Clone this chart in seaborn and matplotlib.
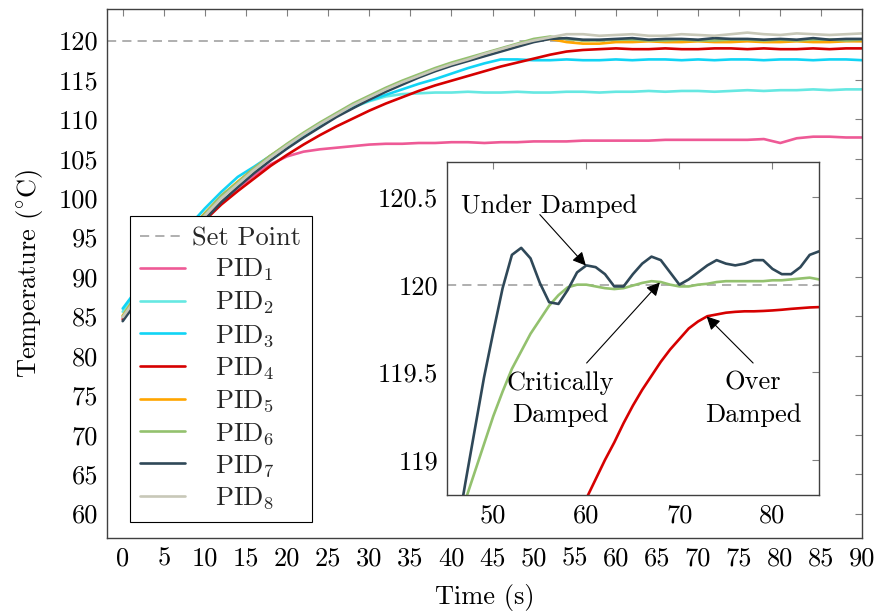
import matplotlib
matplotlib.use("Agg")
import matplotlib.pyplot as plt
import numpy as np
import pandas as pd
import seaborn as sns

# ---------------- data ----------------
time_main = [0, 2, 4, 6, 8, 10, 12, 14, 16, 18, 20, 22, 24, 26, 28, 30, 32, 34, 36, 38,
             40, 42, 44, 46, 48, 50, 52, 54, 56, 58, 60, 62, 64, 66, 68, 70, 72, 74, 76, 78,
             80, 82, 84, 86, 88, 90]

pid1 = [84.8, 87.7, 90.4, 92.9, 95.2, 97.4, 99.5, 101.3, 102.9, 104.3,
        105.3, 105.9, 106.2, 106.4, 106.6, 106.8, 106.9, 106.9, 107.0, 107.0,
        107.1, 107.1, 107.0, 107.1, 107.1, 107.2, 107.2, 107.2, 107.3, 107.3,
        107.3, 107.3, 107.3, 107.4, 107.4, 107.4, 107.4, 107.4, 107.4, 107.5,
        107.0, 107.6, 107.8, 107.8, 107.7, 107.7]
pid2 = [85.6, 88.4, 91.1, 93.6, 95.9, 98.1, 100.1, 101.8, 103.6, 105.2,
        106.7, 108.0, 109.2, 110.5, 111.5, 112.3, 112.9, 113.2, 113.3, 113.4,
        113.4, 113.5, 113.4, 113.4, 113.5, 113.4, 113.4, 113.5, 113.5, 113.4,
        113.5, 113.5, 113.6, 113.5, 113.6, 113.6, 113.5, 113.6, 113.7, 113.6,
        113.7, 113.7, 113.8, 113.7, 113.8, 113.8]
pid3 = [86.0, 88.8, 91.5, 94.0, 96.4, 98.7, 100.8, 102.7, 104.0, 105.4,
        106.7, 108.0, 109.3, 110.6, 111.6, 112.4, 113.1, 113.8, 114.5, 115.1,
        115.8, 116.5, 117.1, 117.6, 117.6, 117.5, 117.5, 117.6, 117.5, 117.5,
        117.6, 117.5, 117.6, 117.6, 117.5, 117.6, 117.5, 117.6, 117.6, 117.5,
        117.6, 117.6, 117.5, 117.6, 117.6, 117.5]
pid4 = [84.6, 87.5, 90.2, 92.7, 95.0, 97.2, 99.2, 100.9, 102.5, 104.1,
        105.5, 106.8, 108.0, 109.1, 110.1, 111.1, 112.0, 112.8, 113.6, 114.3,
        114.9, 115.5, 116.1, 116.7, 117.2, 117.7, 118.2, 118.6, 118.8, 118.9,
        119.0, 118.9, 118.9, 119.0, 118.9, 118.9, 119.0, 119.0, 118.9, 119.0,
        118.9, 118.9, 119.0, 118.9, 119.0, 119.0]
pid5 = [85.1, 88.1, 90.9, 93.4, 95.8, 98.1, 100.3, 102.1, 103.8, 105.4,
        106.8, 108.2, 109.5, 110.7, 111.9, 112.9, 113.9, 114.8, 115.6, 116.4,
        117.1, 117.7, 118.3, 118.9, 119.5, 120.1, 120.2, 119.8, 119.6, 119.6,
        119.8, 119.8, 119.9, 119.8, 119.8, 119.9, 119.8, 119.8, 119.9, 119.8,
        119.8, 119.9, 119.8, 119.8, 119.9, 119.9]
pid6 = [85.0, 88.0, 90.8, 93.3, 95.7, 98.0, 100.3, 102.0, 103.8, 105.4,
        106.9, 108.3, 109.6, 110.8, 112.0, 113.0, 114.0, 114.9, 115.7, 116.5,
        117.2, 117.8, 118.4, 119.0, 119.6, 120.2, 120.5, 120.2, 120.0, 120.0,
        120.1, 120.1, 120.0, 120.0, 120.1, 120.0, 120.0, 120.1, 120.1, 120.0,
        120.1, 120.0, 120.1, 120.1, 120.0, 120.1]
pid7 = [84.4, 87.3, 90.1, 92.6, 95.0, 97.3, 99.5, 101.4, 103.2, 104.8,
        106.3, 107.7, 109.0, 110.3, 111.4, 112.5, 113.5, 114.4, 115.3, 116.1,
        116.8, 117.4, 118.0, 118.6, 119.2, 119.8, 120.2, 120.3, 120.1, 120.1,
        120.2, 120.3, 120.1, 120.2, 120.2, 120.1, 120.3, 120.2, 120.2, 120.1,
        120.2, 120.1, 120.3, 120.1, 120.2, 120.2]
pid8 = [84.9, 87.8, 90.6, 93.1, 95.5, 97.8, 100.0, 101.8, 103.6, 105.2,
        106.7, 108.1, 109.4, 110.6, 111.8, 112.8, 113.8, 114.7, 115.5, 116.3,
        117.0, 117.6, 118.3, 118.9, 119.5, 120.0, 120.4, 120.8, 120.8, 120.6,
        120.7, 120.8, 120.6, 120.6, 120.8, 120.7, 120.6, 120.8, 121.0, 120.8,
        120.7, 120.9, 120.8, 120.7, 120.8, 120.9]

series_names = ["PID1", "PID2", "PID3", "PID4", "PID5", "PID6", "PID7", "PID8"]
series_values = [pid1, pid2, pid3, pid4, pid5, pid6, pid7, pid8]
legend_labels = [r"$\quad\mathrm{PID}_{1}$", r"$\quad\mathrm{PID}_{2}$", r"$\quad\mathrm{PID}_{3}$",
                 r"$\quad\mathrm{PID}_{4}$", r"$\quad\mathrm{PID}_{5}$", r"$\quad\mathrm{PID}_{6}$",
                 r"$\quad\mathrm{PID}_{7}$", r"$\quad\mathrm{PID}_{8}$"]
colors = ["#EE5A96", "#66E8E2", "#11D4F5", "#D60000", "#FFA500", "#93C16E", "#2F4858", "#C8C8B8"]

set_point = 120
x_ticks = [0, 5, 10, 15, 20, 25, 30, 35, 40, 45, 50, 55, 60, 65, 70, 75, 80, 85, 90]
y_ticks = [60, 65, 70, 75, 80, 85, 90, 95, 100, 105, 110, 115, 120]

# inset data
time_inset = [45, 46, 47, 48, 49, 50, 51, 52, 53, 54, 55, 56, 57, 58, 59, 60, 61, 62, 63, 64,
              65, 66, 67, 68, 69, 70, 71, 72, 73, 74, 75, 76, 77, 78, 79, 80, 81, 82, 83, 84, 85]
under_damped = [118.25, 118.56, 118.87, 119.17, 119.47, 119.73, 119.98, 120.17, 120.21, 120.15,
                120.01, 119.90, 119.89, 119.97, 120.07, 120.11, 120.10, 120.06, 119.99, 119.99,
                120.06, 120.12, 120.16, 120.14, 120.07, 120.00, 120.03, 120.07, 120.11, 120.14,
                120.12, 120.11, 120.12, 120.14, 120.14, 120.09, 120.06, 120.06, 120.10, 120.17,
                120.19]
critically_damped = [118.40, 118.60, 118.77, 118.93, 119.09, 119.25, 119.39, 119.52, 119.62, 119.72,
                     119.80, 119.88, 119.94, 119.985, 120.00, 120.00, 119.99, 119.98, 119.975, 119.98,
                     119.995, 120.01, 120.02, 120.015, 120.00, 119.99, 119.99, 120.00, 120.005, 120.015,
                     120.02, 120.02, 120.02, 120.02, 120.02, 120.025, 120.025, 120.03, 120.035, 120.04,
                     120.03]
time_over = [59, 60, 61, 62, 63, 64, 65, 66, 67, 68, 69, 70, 71, 72, 73, 74, 75, 76, 77, 78,
             79, 80, 81, 82, 83, 84, 85]
over_damped = [118.66, 118.78, 118.89, 119.00, 119.10, 119.21, 119.31, 119.40, 119.48, 119.56,
               119.63, 119.69, 119.75, 119.79, 119.82, 119.83, 119.84, 119.845, 119.848, 119.848,
               119.85, 119.853, 119.857, 119.862, 119.866, 119.87, 119.872]
inset_x_ticks = [50, 60, 70, 80]
inset_y_ticks = [119, 119.5, 120, 120.5]
inset_y_labels = ["119", "119.5", "120", "120.5"]

# ---------------- style ----------------
sns.set_theme(style="white")
plt.rcParams["font.family"] = ["cmr10", "DejaVu Serif"]
plt.rcParams["mathtext.fontset"] = "cm"
plt.rcParams["axes.unicode_minus"] = False
plt.rcParams["axes.formatter.use_mathtext"] = True
FS = 19
SPINE = "#404040"
TICK = "#808080"

df_main = pd.concat(
    [pd.DataFrame({"t": time_main, "T": v, "series": n}) for n, v in zip(series_names, series_values)],
    ignore_index=True)

fig = plt.figure(figsize=(8.75, 6.14), dpi=100)
ax = fig.add_axes([0.1219, 0.1238, 0.8638, 0.8616])

sp_line = ax.axhline(set_point, color="#9a9a9a", lw=1.1, dashes=(6, 4), zorder=1)
sns.lineplot(data=df_main, x="t", y="T", hue="series", hue_order=series_names,
             palette=colors, linewidth=1.9, ax=ax, legend=False, estimator=None, sort=False)

ax.set_xlim(-1.95, 90)
ax.set_ylim(56.9, 124.0)
ax.set_xticks(x_ticks)
ax.set_xticklabels([str(v) for v in x_ticks])
ax.set_yticks(y_ticks)
ax.set_yticklabels([str(v) for v in y_ticks])
ax.tick_params(direction="in", length=5, width=0.8, color=TICK, top=True, right=True,
               labelsize=FS, pad=6, labelcolor="black")
for s in ax.spines.values():
    s.set_color(SPINE)
    s.set_linewidth(1.0)
ax.set_xlabel("Time (s)", fontsize=FS, labelpad=10, color="black")
ax.set_ylabel(r"Temperature ($^{\circ}$C)", fontsize=FS, labelpad=10, color="black")

lines = ax.get_lines()
handles = [sp_line] + [l for l in lines if l is not sp_line][:len(series_names)]
leg = ax.legend(handles, ["Set Point"] + legend_labels, loc="upper left",
                bbox_to_anchor=(0.0308, 0.6087), borderaxespad=0, frameon=True,
                fancybox=False, edgecolor="black", framealpha=1, fontsize=FS,
                handlelength=1.67, handletextpad=0.3, labelspacing=0.25, borderpad=0.4)
leg.get_frame().set_linewidth(0.8)
leg.set_zorder(5)

# ---------------- inset ----------------
ax2 = fig.add_axes([0.5106, 0.1938, 0.4254, 0.5424])
ax2.set_zorder(10)
ax2.set_facecolor("white")
ax2.axhline(set_point, color="#9a9a9a", lw=1.1, dashes=(6, 4), zorder=1)

df_in = pd.concat([
    pd.DataFrame({"t": time_over, "T": over_damped, "kind": "Over"}),
    pd.DataFrame({"t": time_inset, "T": critically_damped, "kind": "Critical"}),
    pd.DataFrame({"t": time_inset, "T": under_damped, "kind": "Under"}),
], ignore_index=True)
sns.lineplot(data=df_in, x="t", y="T", hue="kind", hue_order=["Over", "Critical", "Under"],
             palette=[colors[3], colors[5], colors[6]], linewidth=1.9, ax=ax2, legend=False,
             estimator=None, sort=False)

ax2.set_xlim(45, 85)
ax2.set_ylim(118.8, 120.7)
ax2.set_xticks(inset_x_ticks)
ax2.set_xticklabels([str(v) for v in inset_x_ticks])
ax2.set_yticks(inset_y_ticks)
ax2.set_yticklabels(inset_y_labels)
ax2.tick_params(direction="in", length=5, width=0.8, color=TICK, top=True, right=True,
                labelsize=FS, pad=6, labelcolor="black")
for s in ax2.spines.values():
    s.set_color(SPINE)
    s.set_linewidth(1.0)
ax2.set_xlabel("")
ax2.set_ylabel("")

arrow_kw = dict(arrowstyle="-|>", color="black", lw=0.8, mutation_scale=20,
                shrinkA=0, shrinkB=0)
ax2.annotate("", xy=(59.95, 120.109), xytext=(55.0, 120.40), arrowprops=arrow_kw)
ax2.annotate("", xy=(67.9, 120.013), xytext=(60.03, 119.553), arrowprops=arrow_kw)
ax2.annotate("", xy=(72.92, 119.819), xytext=(77.92, 119.553), arrowprops=arrow_kw)

ax2.text(55.98, 120.41, "Under Damped", ha="center", va="baseline", fontsize=FS, color="black")
ax2.text(57.16, 119.40, "Critically", ha="center", va="baseline", fontsize=FS, color="black")
ax2.text(57.16, 119.219, "Damped", ha="center", va="baseline", fontsize=FS, color="black")
ax2.text(77.92, 119.40, "Over", ha="center", va="baseline", fontsize=FS, color="black")
ax2.text(77.92, 119.219, "Damped", ha="center", va="baseline", fontsize=FS, color="black")

fig.savefig("out.png", dpi=100)
